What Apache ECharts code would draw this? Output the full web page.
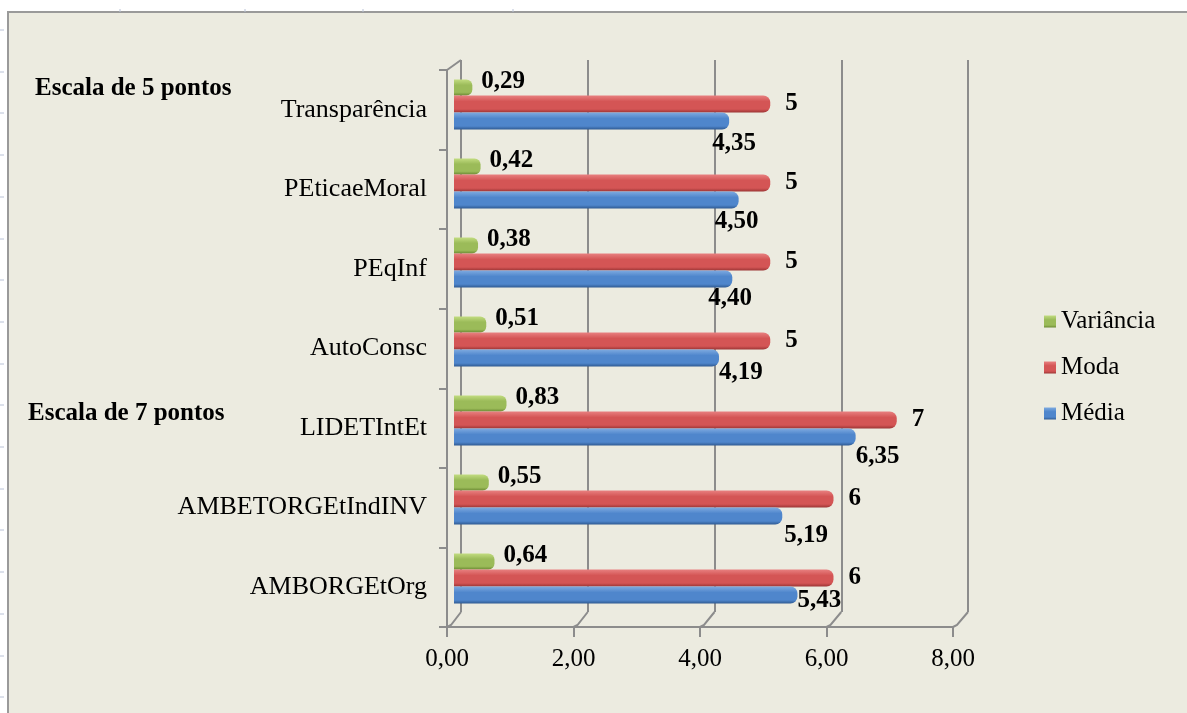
<!DOCTYPE html>
<html>
<head>
<meta charset="utf-8">
<script src="https://cdn.jsdelivr.net/npm/echarts@6/dist/echarts.min.js"></script>
<style>
  html, body { margin: 0; padding: 0; background: #ffffff; }
  #chart { width: 1187px; height: 713px; }
</style>
</head>
<body>
<div id="chart"></div>
<script>
// Categories, bottom to top
const categories = ['AMBORGEtOrg', 'AMBETORGEtIndINV', 'LIDETIntEt', 'AutoConsc', 'PEqInf', 'PEticaeMoral', 'Transparência'];
// Series values
const media = [5.43, 5.19, 6.35, 4.19, 4.40, 4.50, 4.35];
const moda = [6, 6, 7, 5, 5, 5, 5];
const variancia = [0.64, 0.55, 0.83, 0.51, 0.38, 0.42, 0.29];
// Value axis ticks
const xTickValues = [0, 2, 4, 6, 8];
const xTickLabels = ['0,00', '2,00', '4,00', '6,00', '8,00'];
// Group headings
const headings = ['Escala de 5 pontos', 'Escala de 7 pontos'];

// Small nudges for the Média value labels (pixels), per category
const mediaLabelDx = [0, 2, 0, 0, -24, -24, -17];
const mediaLabelDy = [6, 20, 20, 15, 20, 22, 23];

const SERIF = '"Liberation Serif", "Times New Roman", serif';
const fmt2 = v => v.toFixed(2).replace('.', ',');

// 3D box geometry: back wall, front axes, bar plane
const back = { left: 461, top: 60, width: 507, height: 552 };
const front = { left: 447, top: 70, width: 506, height: 557 };
const mid = { left: 454, top: 65, width: 506, height: 553 };

function cyl(light, main, dark) {
  return new echarts.graphic.LinearGradient(0, 0, 0, 1, [
    { offset: 0, color: light },
    { offset: 0.35, color: main },
    { offset: 0.8, color: main },
    { offset: 1, color: dark }
  ]);
}

const chart = echarts.init(document.getElementById('chart'), null, { renderer: 'canvas' });

const gridLineColor = '#8c8c8c';
const labelFont = { fontFamily: SERIF, fontWeight: 'bold', fontSize: 25, color: '#000' };

const option = {
  backgroundColor: '#ffffff',
  animation: false,
  legend: {
    orient: 'vertical',
    left: 1039,
    top: 304,
    itemWidth: 12,
    itemHeight: 12,
    itemGap: 21,
    icon: 'rect',
    data: ['Variância', 'Moda', 'Média'],
    textStyle: { fontFamily: SERIF, fontSize: 25, color: '#000', padding: [0, 0, 0, 0] }
  },
  grid: [
    { left: back.left, top: back.top, width: back.width, height: back.height },
    { left: front.left, top: front.top, width: front.width, height: front.height },
    { left: mid.left, top: mid.top, width: mid.width, height: mid.height }
  ],
  xAxis: [
    {
      gridIndex: 0, type: 'value', min: 0, max: 8, interval: 2,
      axisLine: { show: false }, axisTick: { show: false }, axisLabel: { show: false },
      splitLine: { show: true, showMinLine: true, showMaxLine: true, lineStyle: { color: gridLineColor, width: 2 } }
    },
    {
      gridIndex: 1, type: 'value', min: 0, max: 8, interval: 2,
      axisLine: { show: true, lineStyle: { color: gridLineColor, width: 2 } },
      axisTick: { show: true, length: 10, lineStyle: { color: gridLineColor, width: 2 } },
      axisLabel: {
        margin: 20, fontFamily: SERIF, fontSize: 25, color: '#000',
        formatter: v => xTickLabels[xTickValues.indexOf(v)]
      },
      splitLine: { show: false }
    },
    {
      gridIndex: 2, type: 'value', min: 0, max: 8, interval: 2, show: false
    }
  ],
  yAxis: [
    {
      gridIndex: 0, type: 'category', data: categories,
      axisLine: { show: false }, axisTick: { show: false }, axisLabel: { show: false }
    },
    {
      gridIndex: 1, type: 'category', data: categories,
      axisLine: { show: true, lineStyle: { color: gridLineColor, width: 2 } },
      axisTick: { show: true, length: 8, lineStyle: { color: gridLineColor, width: 2 } },
      axisLabel: { margin: 20, fontFamily: SERIF, fontSize: 26, color: '#000' }
    },
    {
      gridIndex: 2, type: 'category', data: categories, show: false
    }
  ],
  series: [
    {
      name: 'Variância', type: 'bar', xAxisIndex: 2, yAxisIndex: 2,
      barWidth: 16, barGap: '0%', barCategoryGap: '35%',
      itemStyle: { color: cyl('#c2dc80', '#9bbb59', '#6c8a34'), borderRadius: [0, 6, 6, 0] },
      label: Object.assign({
        show: true, position: 'right', distance: 9, offset: [0, -6],
        formatter: p => fmt2(p.value)
      }, labelFont),
      data: variancia
    },
    {
      name: 'Moda', type: 'bar', xAxisIndex: 2, yAxisIndex: 2,
      barWidth: 17, barGap: '0%',
      itemStyle: { color: cyl('#e88080', '#d45555', '#9c3535'), borderRadius: [0, 7, 7, 0] },
      label: Object.assign({
        show: true, position: 'right', distance: 15,
        formatter: p => String(p.value)
      }, labelFont),
      data: moda
    },
    {
      name: 'Média', type: 'bar', xAxisIndex: 2, yAxisIndex: 2,
      barWidth: 17, barGap: '0%',
      itemStyle: { color: cyl('#7eaae0', '#4f86cc', '#2f5a92'), borderRadius: [0, 7, 7, 0] },
      label: Object.assign({
        show: true, position: 'right', distance: 0, align: 'left',
        formatter: p => fmt2(p.value)
      }, labelFont),
      data: media.map((v, i) => ({ value: v, label: { offset: [mediaLabelDx[i], mediaLabelDy[i]] } }))
    }
  ]
};

chart.setOption(option);

// Frame, margin marks, depth edges and headings
function buildGraphics() {
  const els = [];
  // page background with framed chart area
  els.push({
    type: 'rect', z: -10, silent: true,
    shape: { x: 8, y: 12, width: 1200, height: 720 },
    style: { fill: '#ecebe0', stroke: '#9a9a9a', lineWidth: 2 }
  });
  // faint margin marks
  for (let y = 30; y < 713; y += 41.7) {
    els.push({ type: 'line', z: -9, silent: true, shape: { x1: 0, y1: Math.round(y), x2: 4, y2: Math.round(y) }, style: { stroke: '#b9c2d6', lineWidth: 1 } });
  }
  [120, 245, 363, 513].forEach(x => {
    els.push({ type: 'line', z: -9, silent: true, shape: { x1: x, y1: 9, x2: x, y2: 12 }, style: { stroke: '#b9c2d6', lineWidth: 1 } });
  });
  // floor depth edges from the front axis to the back wall
  const frontBottom = front.top + front.height;
  const backBottom = back.top + back.height;
  xTickValues.forEach(v => {
    const fx = chart.convertToPixel({ xAxisIndex: 1 }, v);
    const bx = chart.convertToPixel({ xAxisIndex: 0 }, v);
    els.push({
      type: 'polyline', z: 5, silent: true,
      shape: { points: [[fx, frontBottom], [fx + 4, frontBottom - 2], [bx, backBottom]] },
      style: { stroke: gridLineColor, lineWidth: 2, fill: null }
    });
  });
  // top-left depth edge
  els.push({
    type: 'line', z: 5, silent: true,
    shape: { x1: front.left, y1: front.top, x2: back.left, y2: back.top },
    style: { stroke: gridLineColor, lineWidth: 2 }
  });
  // headings
  els.push({
    type: 'text', x: 35, y: 89, silent: true,
    style: { text: headings[0], font: 'bold 25px ' + SERIF, fill: '#000', verticalAlign: 'middle' }
  });
  els.push({
    type: 'text', x: 28, y: 414, silent: true,
    style: { text: headings[1], font: 'bold 25px ' + SERIF, fill: '#000', verticalAlign: 'middle' }
  });
  return els;
}

chart.setOption({ graphic: buildGraphics() });
</script>
</body>
</html>
